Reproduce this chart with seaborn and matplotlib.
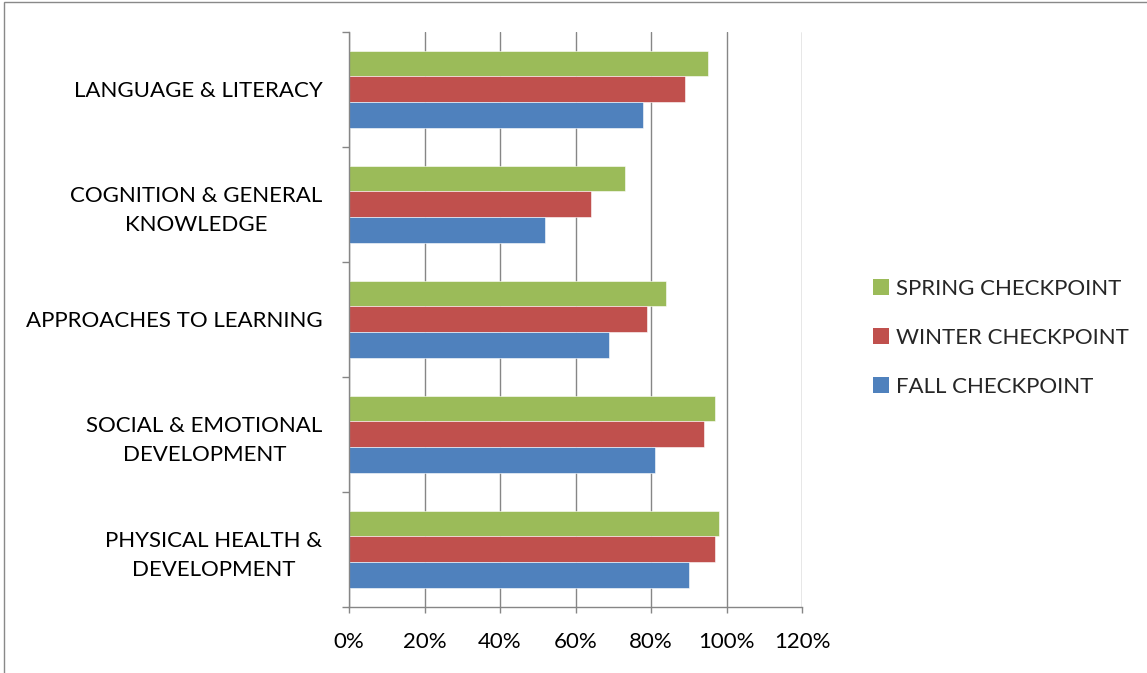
import matplotlib
matplotlib.use("Agg")
import matplotlib.pyplot as plt
import matplotlib.patches as mpatches
from matplotlib.ticker import FixedLocator, PercentFormatter
import seaborn as sns
import pandas as pd

categories = ["LANGUAGE & LITERACY", "COGNITION & GENERAL\nKNOWLEDGE", "APPROACHES TO LEARNING",
              "SOCIAL & EMOTIONAL\nDEVELOPMENT", "PHYSICAL HEALTH &\nDEVELOPMENT"]
series = ["SPRING CHECKPOINT", "WINTER CHECKPOINT", "FALL CHECKPOINT"]
spring = [95, 73, 84, 97, 98]
winter = [89, 64, 79, 94, 97]
fall = [78, 52, 69, 81, 90]
colors = ["#9BBB59", "#C0504D", "#4F81BD"]
xticks = [0, 20, 40, 60, 80, 100, 120]

rows = []
for s, vals in zip(series, [spring, winter, fall]):
    for c, v in zip(categories, vals):
        rows.append({"category": c, "series": s, "value": v})
df = pd.DataFrame(rows)

sns.set_theme(style="white")
plt.rcParams['font.family'] = ['Lato', 'DejaVu Sans']

fig = plt.figure(figsize=(11.47, 6.73), dpi=100)
ax = fig.add_axes([349/1147, 1 - 606.7/673, (802 - 349)/1147, (606.7 - 31.7)/673])

sns.barplot(data=df, y="category", x="value", hue="series", order=categories,
            hue_order=series, palette=colors, orient="h", width=0.67, saturation=1,
            edgecolor="white", linewidth=0.4, ax=ax, legend=False, errorbar=None)

gray = "#868686"
ax.set_xlim(0, 120)
ax.set_ylim(4.5, -0.5)
ax.xaxis.set_major_locator(FixedLocator(xticks))
ax.xaxis.set_major_formatter(PercentFormatter(decimals=0))
ax.grid(axis="x", color=gray, linewidth=1.0)
ax.set_axisbelow(True)
for side in ["top", "right"]:
    ax.spines[side].set_visible(False)
for side in ["left", "bottom"]:
    ax.spines[side].set_color(gray)
    ax.spines[side].set_linewidth(1.0)

ax.set_xlabel("")
ax.set_ylabel("")
ax.tick_params(axis="x", which="major", direction="out", length=4, color=gray, width=1.0,
               labelsize=16, pad=14, labelcolor="black", bottom=True)
ax.tick_params(axis="y", which="major", length=0, labelsize=16, pad=19, labelcolor="black")
ax.yaxis.set_minor_locator(FixedLocator([-0.5, 0.5, 1.5, 2.5, 3.5, 4.5]))
ax.tick_params(axis="y", which="minor", direction="out", length=5, color=gray, width=1.0, left=True)
for lab in ax.get_yticklabels():
    lab.set_multialignment("center")
    lab.set_linespacing(1.55)

handles = [mpatches.Patch(facecolor=c, edgecolor="none", label=s) for c, s in zip(colors, series)]
fig.legend(handles=handles, loc="center left", bbox_to_anchor=(864/1147, 1 - 338/673),
           frameon=False, fontsize=16, handlelength=0.72, handleheight=0.72,
           handletextpad=0.3, labelspacing=1.3, borderaxespad=0)

fig.patches.append(mpatches.Rectangle((4/1147, -0.1), 1.2, 1 - 2.5/673 + 0.1,
                                      transform=fig.transFigure, fill=False,
                                      edgecolor="#898989", linewidth=1.0))

fig.savefig("out.png", dpi=100)
